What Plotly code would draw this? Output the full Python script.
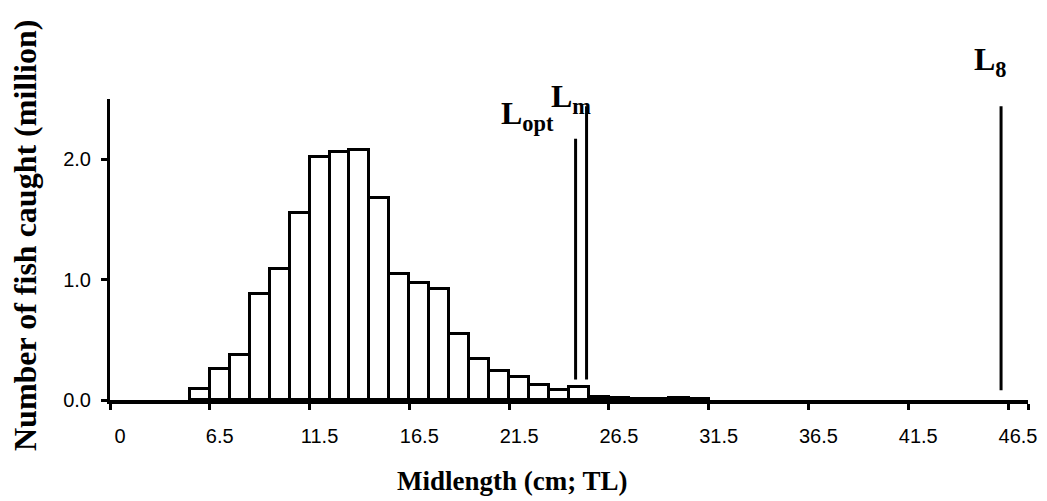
import plotly.graph_objects as go

# ---- data ----
midlengths = ["0", "2.5", "3.5", "4.5", "5.5", "6.5", "7.5", "8.5", "9.5", "10.5",
              "11.5", "12.5", "13.5", "14.5", "15.5", "16.5", "17.5", "18.5", "19.5", "20.5",
              "21.5", "22.5", "23.5", "24.5", "25.5", "26.5", "27.5", "28.5", "29.5", "30.5",
              "31.5", "32.5", "33.5", "34.5", "35.5", "36.5", "37.5", "38.5", "39.5", "40.5",
              "41.5", "42.5", "43.5", "44.5", "45.5", "46.5"]
catch_million = [0, 0, 0, 0, 0.09, 0.26, 0.37, 0.88, 1.09, 1.55,
                 2.02, 2.06, 2.08, 1.68, 1.05, 0.97, 0.92, 0.55, 0.34, 0.24,
                 0.19, 0.125, 0.08, 0.105, 0.025, 0.015, 0.01, 0.005, 0.02, 0.005,
                 0, 0, 0, 0, 0, 0, 0, 0, 0, 0,
                 0, 0, 0, 0, 0, 0]
tick_labels = ["0", "6.5", "11.5", "16.5", "21.5", "26.5", "31.5", "36.5", "41.5", "46.5"]
y_ticks = [0, 1, 2]
y_tick_labels = ["0.0", "1.0", "2.0"]

# reference lengths (cm) and the vertical extent of their marker lines (million)
ref_labels = ["L<sub>opt</sub>", "L<sub>m</sub>", "L<sub>8</sub>"]
ref_length = [24.33, 24.88, 45.65]
ref_bottom = [0.17, 0.17, 0.08]
ref_top = [2.17, 2.44, 2.44]

SERIF = "Liberation Serif, Times New Roman, serif"
SANS = "Liberation Sans, Arial, sans-serif"

fig = go.Figure()
fig.add_trace(go.Bar(
    x=midlengths, y=catch_million,
    marker=dict(color="white",
                line=dict(color="black", width=[3 if v > 0 else 0 for v in catch_million])),
    width=1.0, showlegend=False,
))

for xv, y0, y1 in zip(ref_length, ref_bottom, ref_top):
    fig.add_trace(go.Scatter(
        x=[xv, xv], y=[y0, y1], mode="lines", xaxis="x2",
        line=dict(color="black", width=3), showlegend=False, hoverinfo="skip",
    ))

# page body adds an 8px offset; compensate so the plot area lands where the reference has it
OFF = 8
PL, PR, PT, PB = 110, 1028, 99, 400  # plot area in page pixels
W, H = 1047 - OFF, 501 - OFF

fig.update_layout(
    width=W, height=H,
    margin=dict(l=PL - OFF, r=1047 - PR, t=PT - OFF, b=501 - PB, autoexpand=False),
    paper_bgcolor="white", plot_bgcolor="white",
    bargap=0,
    font=dict(family=SANS, color="black", size=20),
    xaxis=dict(
        type="category", range=[-0.5, 45.5], automargin=False,
        tickmode="array", tickvals=tick_labels, ticktext=tick_labels, tickangle=0,
        tickson="boundaries", ticks="outside", ticklen=6, tickwidth=3, tickcolor="black",
        showline=True, linewidth=4, linecolor="black", showgrid=False, zeroline=False,
        tickfont=dict(family=SANS, size=20, color="black"),
        ticklabelstandoff=15,
    ),
    xaxis2=dict(
        overlaying="x", range=[1.0, 47.0], visible=False, showgrid=False, automargin=False,
    ),
    yaxis=dict(
        range=[0, 2.5], tickmode="array", tickvals=y_ticks, ticktext=y_tick_labels,
        automargin=False,
        ticks="outside", ticklen=6, tickwidth=3, tickcolor="black",
        showline=True, linewidth=3, linecolor="black", showgrid=False, zeroline=False,
        tickfont=dict(family=SANS, size=20, color="black"),
        ticklabelstandoff=6,
    ),
)


def px(xp, yp):
    return (xp - PL) / (PR - PL), (PB - yp) / (PB - PT)


label_pos = [(527, 115), (571, 98), (990, 61)]
for lab, (xp, yp) in zip(ref_labels, label_pos):
    ax_, ay_ = px(xp, yp)
    fig.add_annotation(
        text="<b>" + lab + "</b>", xref="paper", yref="paper",
        x=ax_, y=ay_, xanchor="center", yanchor="middle", showarrow=False,
        font=dict(family=SERIF, size=32, color="black"),
    )

tx, ty = px(512, 481)
fig.add_annotation(
    text="<b>Midlength (cm; TL)</b>", xref="paper", yref="paper",
    x=tx, y=ty, xanchor="center", yanchor="middle",
    showarrow=False, font=dict(family=SERIF, size=27, color="black"),
)
yx, yy = px(25, 236)
fig.add_annotation(
    text="<b>Number of fish caught (million)</b>", xref="paper", yref="paper",
    x=yx, y=yy, xanchor="center", yanchor="middle",
    textangle=-90, showarrow=False, font=dict(family=SERIF, size=32, color="black"),
)

fig.write_html("out.html")
